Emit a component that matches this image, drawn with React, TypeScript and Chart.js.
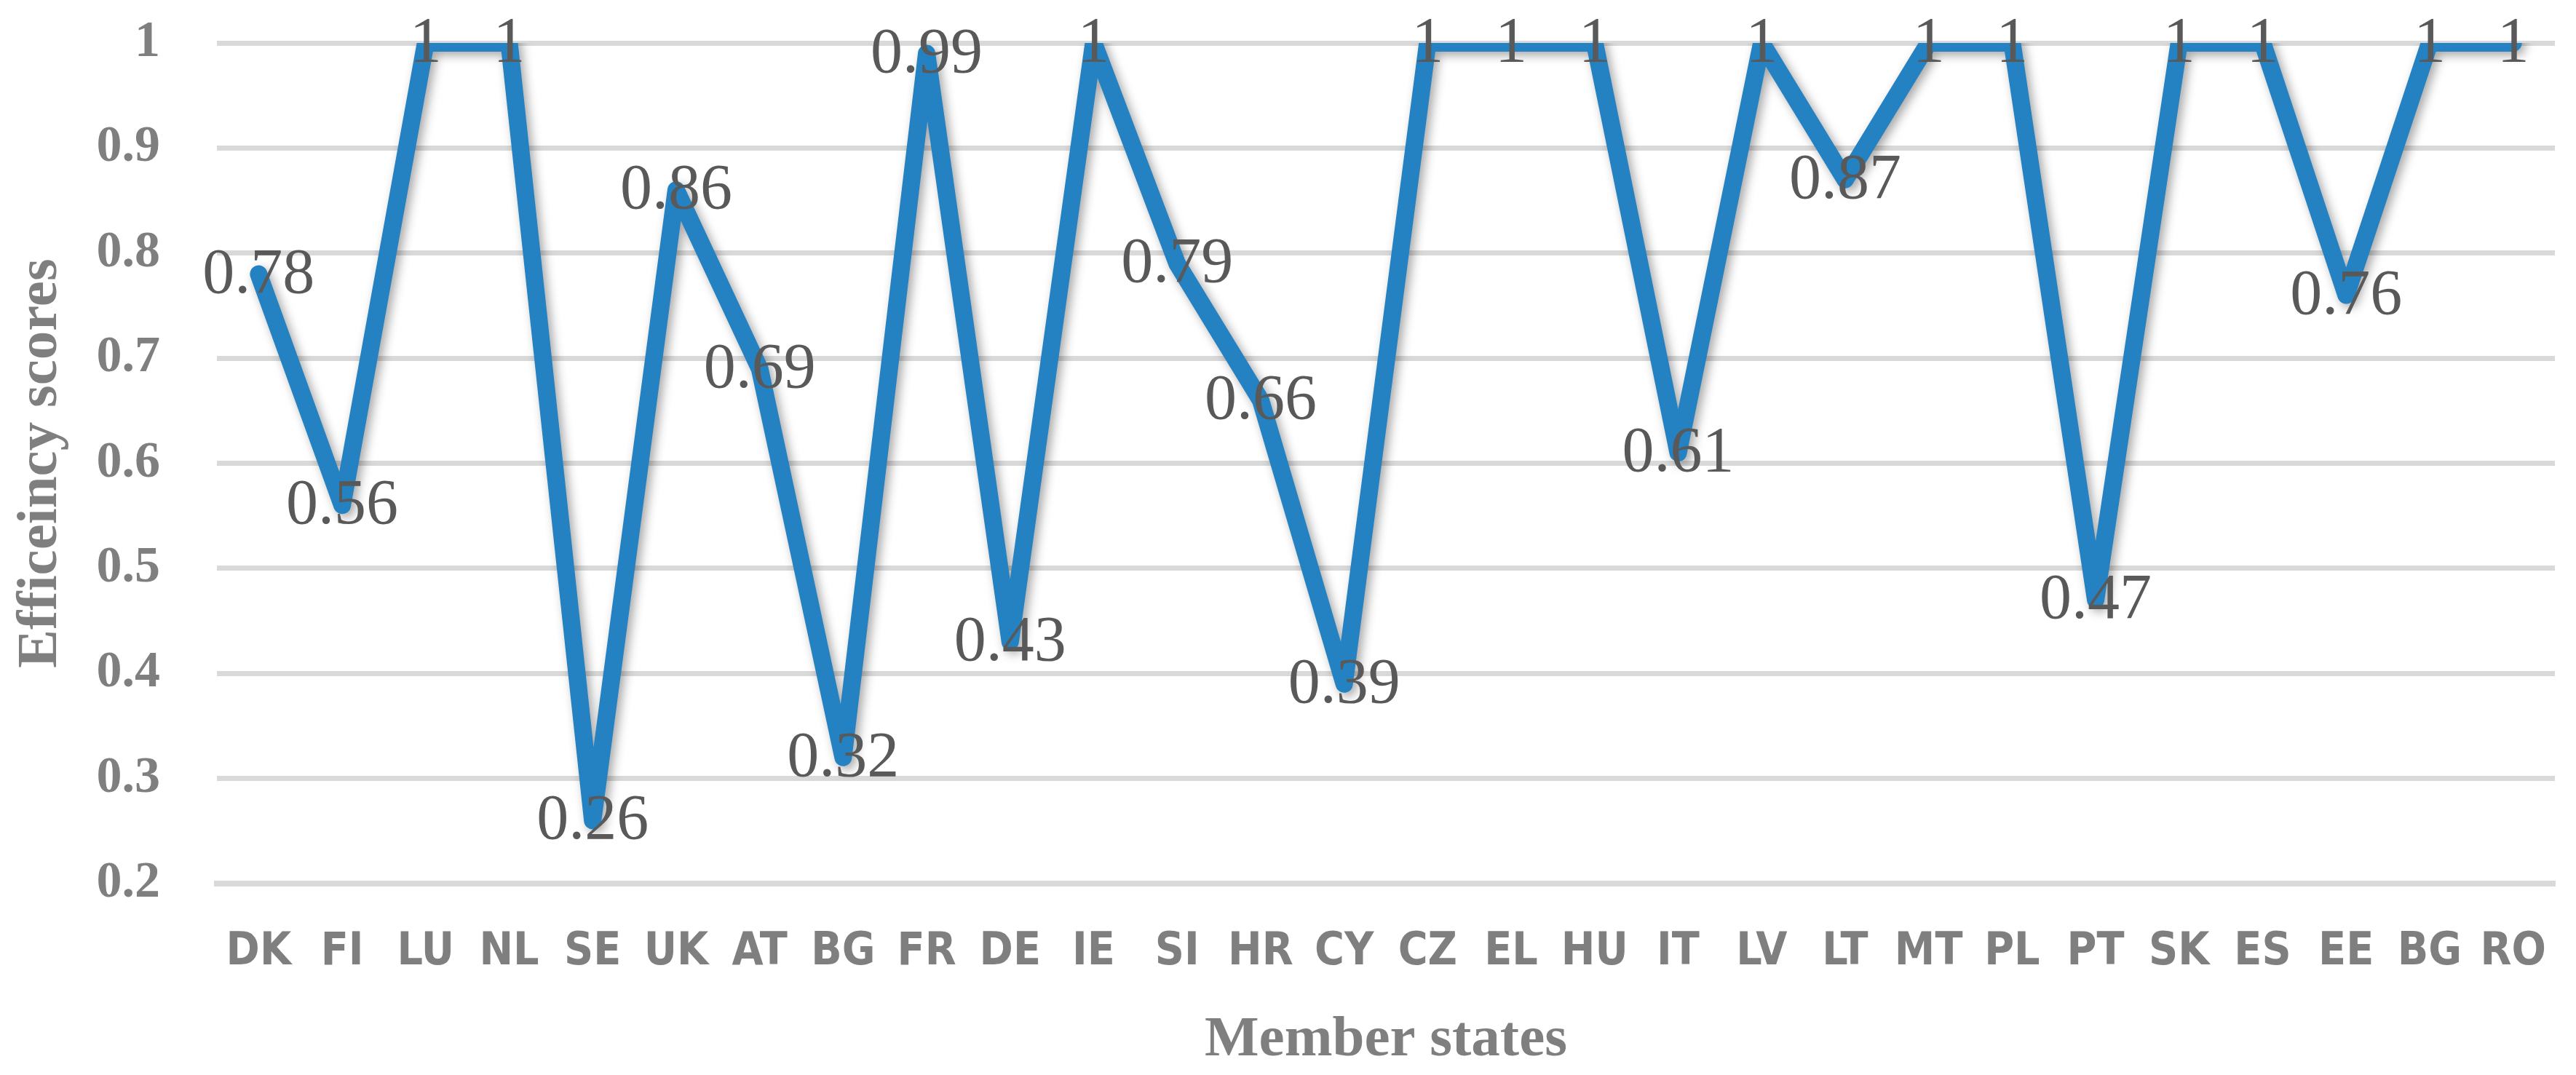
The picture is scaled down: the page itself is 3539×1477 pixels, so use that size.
import React, { useEffect, useRef } from 'react';
import Chart from 'chart.js/auto';

const memberStates = ['DK', 'FI', 'LU', 'NL', 'SE', 'UK', 'AT', 'BG', 'FR', 'DE', 'IE', 'SI', 'HR', 'CY', 'CZ', 'EL', 'HU', 'IT', 'LV', 'LT', 'MT', 'PL', 'PT', 'SK', 'ES', 'EE', 'BG', 'RO'];
const efficiencyScores = [0.78, 0.56, 1, 1, 0.26, 0.86, 0.69, 0.32, 0.99, 0.43, 1, 0.79, 0.66, 0.39, 1, 1, 1, 0.61, 1, 0.87, 1, 1, 0.47, 1, 1, 0.76, 1, 1];
const yMin = 0.2;
const yMax = 1;
const yStep = 0.1;

const WIDTH = 3539;
const HEIGHT = 1477;
const GREY = '#7F7F7F';
const SERIF = '"Liberation Serif", "Times New Roman", serif';

// shadow under the line + value labels centred on each point
const lineLabels = {
  id: 'lineLabels',
  beforeDatasetsDraw(chart: any) {
    const ctx = chart.ctx;
    ctx.save();
    ctx.shadowColor = 'rgba(0, 0, 0, 0.35)';
    ctx.shadowBlur = 14;
    ctx.shadowOffsetX = 5;
    ctx.shadowOffsetY = 5;
  },
  afterDatasetsDraw(chart: any) {
    const ctx = chart.ctx;
    ctx.restore();
    const meta = chart.getDatasetMeta(0);
    ctx.save();
    ctx.font = `88px ${SERIF}`;
    ctx.fillStyle = '#595959';
    ctx.textAlign = 'center';
    ctx.textBaseline = 'middle';
    meta.data.forEach((pt: any, i: number) => {
      ctx.fillText(String(efficiencyScores[i]), pt.x, pt.y + 2);
    });
    ctx.restore();
  },
};

const App: React.FC = () => {
  const chartRef = useRef<HTMLCanvasElement>(null);
  const chartInstance = useRef<Chart | null>(null);

  useEffect(() => {
    document.body.style.margin = '0';
    if (!chartRef.current) return;
    if (chartInstance.current) {
      chartInstance.current.destroy();
    }
    const ctx = chartRef.current.getContext('2d');
    if (!ctx) return;

    chartInstance.current = new Chart(ctx, {
      type: 'line',
      data: {
        labels: memberStates,
        datasets: [
          {
            data: efficiencyScores,
            borderColor: '#2481C2',
            borderWidth: 24,
            borderCapStyle: 'round',
            borderJoinStyle: 'round',
            pointRadius: 0,
            tension: 0,
            fill: false,
            clip: 0,
          },
        ],
      },
      options: {
        animation: false,
        responsive: false,
        devicePixelRatio: 1,
        layout: { padding: { top: 59, right: 29, bottom: 0, left: 0 } },
        plugins: {
          legend: { display: false },
          tooltip: { enabled: false },
        },
        scales: {
          x: {
            offset: true,
            grid: { display: false, drawTicks: false },
            border: { display: true, color: '#D9D9D9', width: 8 },
            ticks: {
              color: GREY,
              padding: 58,
              autoSkip: false,
              maxRotation: 0,
              font: { family: '"Liberation Sans Narrow", "DejaVu Sans Condensed", sans-serif', size: 62, weight: 'bold' },
            },
            title: {
              display: true,
              text: 'Member states',
              color: GREY,
              padding: { top: 0, bottom: 0 },
              font: { family: SERIF, size: 79, weight: 'bold' },
            },
            afterFit: (scale: any) => {
              scale.height = 263;
              scale.paddingLeft = 0;
              scale.paddingRight = 0;
            },
          },
          y: {
            min: yMin,
            max: yMax,
            grid: { color: '#D9D9D9', lineWidth: 7, drawTicks: false },
            border: { display: false },
            ticks: {
              stepSize: yStep,
              color: GREY,
              padding: 78,
              font: { family: SERIF, size: 70, weight: 'bold' },
              callback: (value: any) => String(Number(Number(value).toFixed(1))),
            },
            title: {
              display: true,
              text: 'Efficeincy scores',
              color: GREY,
              padding: { top: 9, bottom: 0 },
              font: { family: SERIF, size: 79, weight: 'bold' },
            },
            afterFit: (scale: any) => {
              scale.width = 298;
              scale.paddingTop = 0;
              scale.paddingBottom = 0;
            },
          },
        },
      },
      plugins: [lineLabels],
    });

    return () => {
      if (chartInstance.current) {
        chartInstance.current.destroy();
        chartInstance.current = null;
      }
    };
  }, []);

  return (
    <div style={{ width: WIDTH, height: HEIGHT, background: '#fff' }}>
      <canvas ref={chartRef} width={WIDTH} height={HEIGHT}></canvas>
    </div>
  );
};

export default App;
